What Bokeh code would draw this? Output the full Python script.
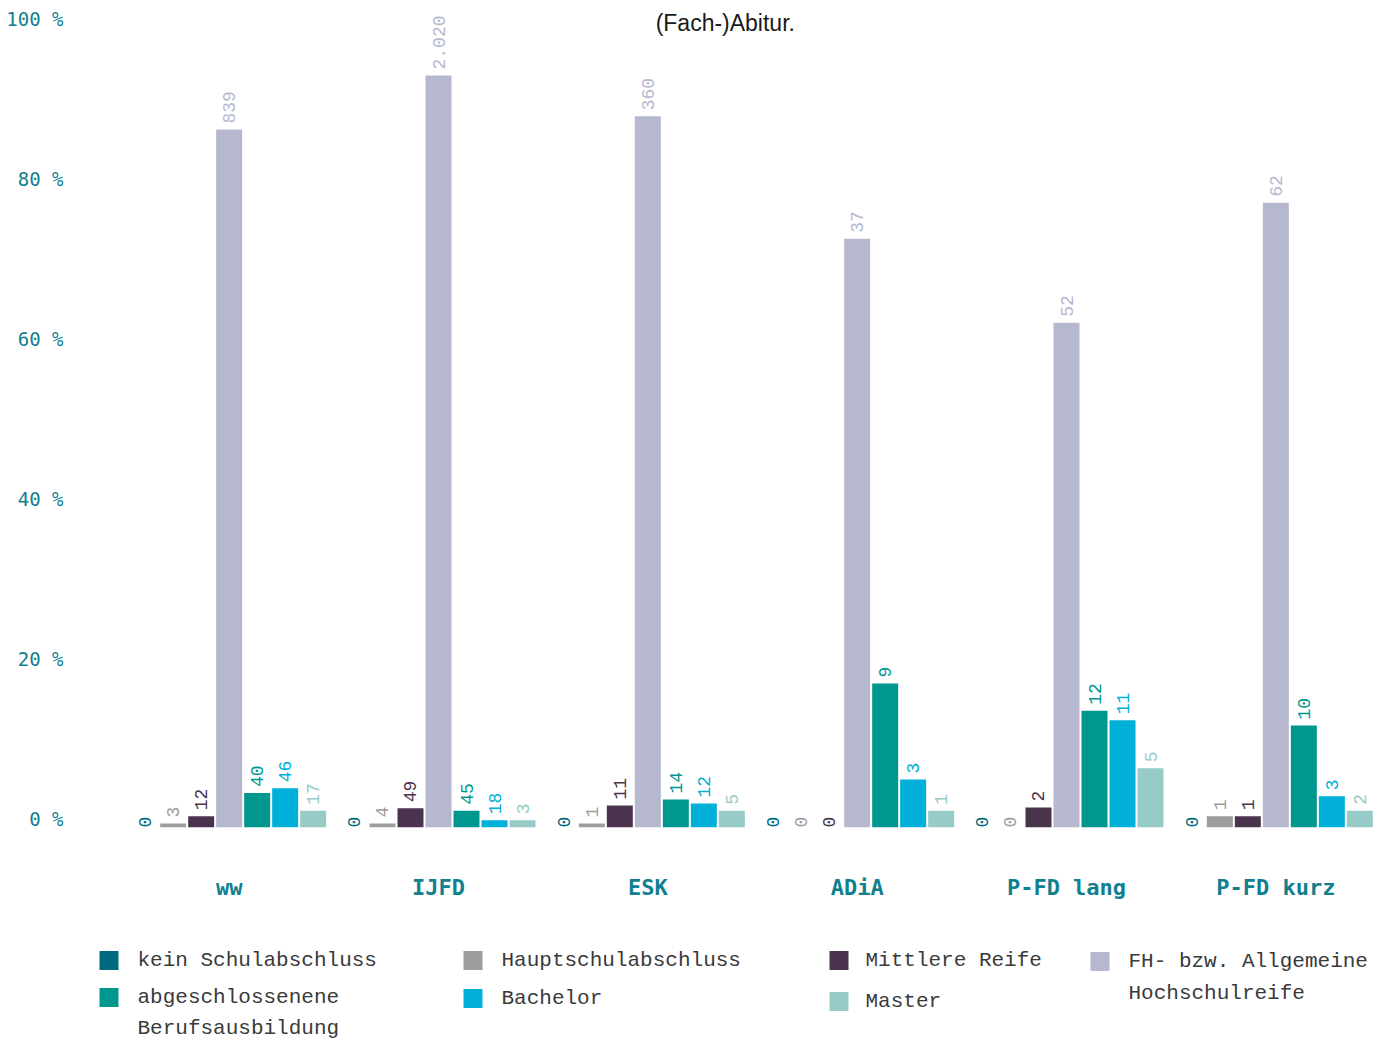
import math
from bokeh.plotting import figure
from bokeh.models import FactorRange, FixedTicker, ColumnDataSource, Label, Range1d
from bokeh.transform import dodge
from bokeh.core.properties import value
from bokeh.embed import file_html
from bokeh.resources import INLINE

# ---------------- data ----------------
categories = ["ww", "IJFD", "ESK", "ADiA", "P-FD lang", "P-FD kurz"]

series_names = ["kein Schulabschluss", "Hauptschulabschluss", "Mittlere Reife",
                "FH- bzw. Allgemeine Hochschulreife", "abgeschlossenene Berufsausbildung",
                "Bachelor", "Master"]

# shares in percent
kein_pct     = [0, 0, 0, 0, 0, 0]
haupt_pct    = [0.5, 0.5, 0.5, 0, 0, 1.4]
mittlere_pct = [1.4, 2.4, 2.75, 0, 2.5, 1.4]
fh_pct       = [87.25, 94.0, 88.9, 73.6, 63.1, 78.1]
berufs_pct   = [4.3, 2.1, 3.5, 18.0, 14.6, 12.75]
bachelor_pct = [4.9, 0.9, 3.0, 6.0, 13.4, 3.9]
master_pct   = [2.1, 0.9, 2.1, 2.1, 7.4, 2.1]

# absolute counts (labels above bars)
kein_n     = [0, 0, 0, 0, 0, 0]
haupt_n    = [3, 4, 1, 0, 0, 1]
mittlere_n = [12, 49, 11, 0, 2, 1]
fh_n       = [839, 2020, 360, 37, 52, 62]
berufs_n   = [40, 45, 14, 9, 12, 10]
bachelor_n = [46, 18, 12, 3, 11, 3]
master_n   = [17, 3, 5, 1, 5, 2]

y_tick_values = [0, 20, 40, 60, 80, 100]
title_text = "(Fach-)Abitur."

# ---------------- style ----------------
colors = {
    "kein Schulabschluss": "#006a80",
    "Hauptschulabschluss": "#9d9d9d",
    "Mittlere Reife": "#4a344d",
    "FH- bzw. Allgemeine Hochschulreife": "#b6b8d0",
    "abgeschlossenene Berufsausbildung": "#00978f",
    "Bachelor": "#00b0d8",
    "Master": "#96cbc8",
}
TEAL = "#10808f"
MONO = "DejaVu Sans Mono"
LMONO = "Liberation Mono"

pct = [kein_pct, haupt_pct, mittlere_pct, fh_pct, berufs_pct, bachelor_pct, master_pct]
cnt = [kein_n, haupt_n, mittlere_n, fh_n, berufs_n, bachelor_n, master_n]

def fmt(n):
    return f"{n:,}".replace(",", ".")

p = figure(x_range=FactorRange(factors=categories, range_padding=0, factor_padding=0),
           y_range=Range1d(0, 103.375),
           width=1380, height=907, output_backend="svg", toolbar_location=None,
           min_border=0, min_border_left=124, min_border_right=0,
           min_border_top=0, min_border_bottom=80, outline_line_color=None)

pitch = 28 / 209.33
bw = 26 / 209.33
for j, name in enumerate(series_names):
    off = (j - 3) * pitch
    src = ColumnDataSource(dict(
        cat=categories,
        val=pct[j],
        lbl=[fmt(n) for n in cnt[j]],
        yoff=[0 if v == 0 else -6 for v in pct[j]],
    ))
    p.vbar(x=dodge("cat", off, range=p.x_range), top="val", width=bw, bottom=0,
           source=src, fill_color=colors[name], line_color=None)
    p.text(x=dodge("cat", off, range=p.x_range), y="val", text="lbl", source=src,
           angle=math.pi / 2, text_align="left", text_baseline="middle",
           text_font=value(LMONO), text_font_size="18px",
           text_color=colors[name], y_offset="yoff")

# y axis: labels sit just above their gridline value
shift = 1.125
ticks = [v + shift for v in y_tick_values]
p.yaxis.ticker = FixedTicker(ticks=ticks)
p.yaxis.major_label_overrides = {t: f"{v} %" for t, v in zip(ticks, y_tick_values)}
p.yaxis.major_label_text_font = MONO
p.yaxis.major_label_text_font_size = "19px"
p.yaxis.major_label_text_color = TEAL
p.yaxis.major_label_standoff = 61
p.yaxis.axis_line_color = None
p.yaxis.major_tick_line_color = None
p.yaxis.minor_tick_line_color = None
p.yaxis.major_tick_out = 0

p.xaxis.major_label_text_font = MONO
p.xaxis.major_label_text_font_size = "22px"
p.xaxis.major_label_text_font_style = "bold"
p.xaxis.major_label_text_color = TEAL
p.xaxis.major_label_standoff = 47
p.xaxis.axis_line_color = None
p.xaxis.major_tick_line_color = None
p.xaxis.minor_tick_line_color = None
p.xaxis.major_tick_out = 0

p.xgrid.grid_line_color = None
p.ygrid.grid_line_color = None

p.add_layout(Label(x=2.87, y=100.6, text=title_text, text_align="center",
                   text_baseline="middle", text_font="Liberation Sans",
                   text_font_size="23px", text_color="#1a1a1a"))

# ---------------- legend figure ----------------
lg = figure(width=1380, height=134, x_range=Range1d(0, 1380), y_range=Range1d(1041, 907),
            output_backend="svg", toolbar_location=None, min_border=0,
            x_axis_location=None, y_axis_location=None,
            outline_line_color=None)
lg.xgrid.grid_line_color = None
lg.ygrid.grid_line_color = None

legend_layout = [
    ("kein Schulabschluss", 108.5, 137, [960], ["kein Schulabschluss"]),
    ("abgeschlossenene Berufsausbildung", 108.5, 137, [997, 1028],
     ["abgeschlossenene", "Berufsausbildung"]),
    ("Hauptschulabschluss", 472.5, 501, [960], ["Hauptschulabschluss"]),
    ("Bachelor", 472.5, 501, [998], ["Bachelor"]),
    ("Mittlere Reife", 838.5, 865, [960], ["Mittlere Reife"]),
    ("Master", 838.5, 865, [1001], ["Master"]),
    ("FH- bzw. Allgemeine Hochschulreife", 1099.5, 1128, [961, 993],
     ["FH- bzw. Allgemeine", "Hochschulreife"]),
]
for name, sx, tx, ys, lines in legend_layout:
    lg.rect(x=[sx], y=[ys[0]], width=19, height=19, fill_color=colors[name], line_color=None)
    lg.text(x=[tx] * len(lines), y=ys, text=lines, text_align="left", text_baseline="middle",
            text_font=value(LMONO), text_font_size="21px", text_color="#3a3a3a")

open("out.html", "w").write(file_html([p, lg], INLINE))
